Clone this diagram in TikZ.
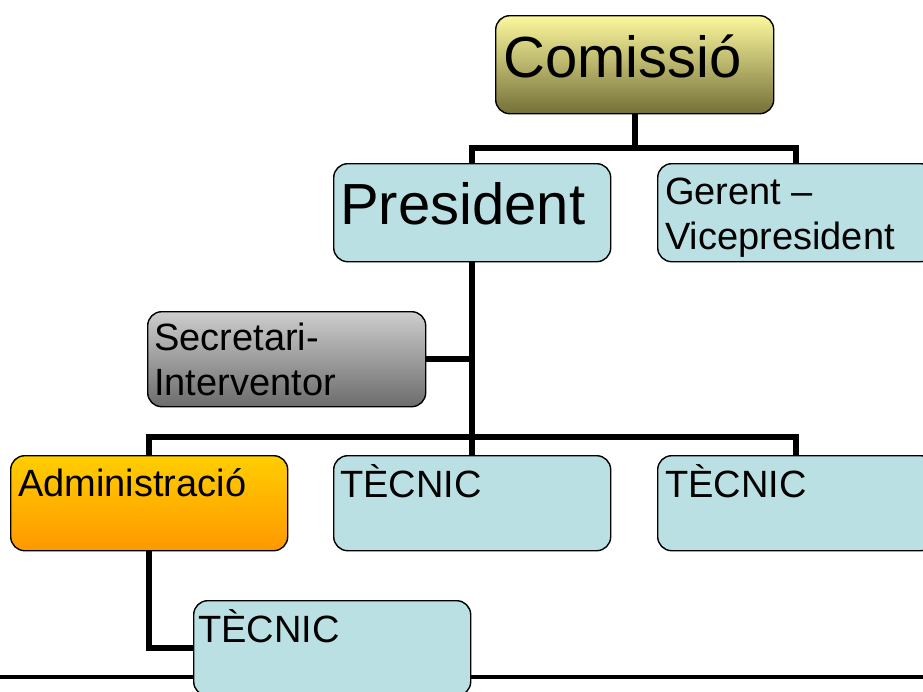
\documentclass[tikz,border=0pt]{standalone}
\usepackage{fontspec}
\setmainfont{Liberation Sans}
\definecolor{boxblue}{RGB}{187,224,227}
\definecolor{comtop}{RGB}{252,248,158}
\definecolor{combot}{RGB}{116,112,56}
\definecolor{graytop}{RGB}{205,205,205}
\definecolor{graybot}{RGB}{108,108,108}
\definecolor{admtop}{RGB}{255,206,0}
\definecolor{admbot}{RGB}{255,152,0}
\pgfdeclarelayer{bg}
\pgfsetlayers{bg,main}
\tikzset{
  box/.style={draw=black, line width=1.4pt, rounded corners=14pt, rectangle, anchor=north west,
    minimum width=277pt, minimum height=96pt, inner sep=0pt},
  bluebox/.style={box, fill=boxblue},
  conn/.style={line width=6pt, line cap=rect},
  big/.style={font=\fontsize{58}{62}\selectfont, anchor=base west, inner sep=0pt},
  mid/.style={font=\fontsize{38}{45}\selectfont, anchor=base west, inner sep=0pt, align=left},
}
\begin{document}
\begin{tikzpicture}[x=1pt, y=-1pt]
\useasboundingbox (0,0) rectangle (923,691);
\clip (0,0) rectangle (923,691);
% boxes
\node[box, top color=comtop, bottom color=combot, minimum width=278pt, minimum height=98pt] (com) at (495,15) {};
\node[bluebox, minimum height=98pt] (pres) at (333,163) {};
\node[bluebox, minimum height=98pt] (ger) at (657,163) {};
\node[box, top color=graytop, bottom color=graybot, minimum width=278pt, minimum height=95pt] (sec) at (147,311) {};
\node[box, top color=admtop, bottom color=admbot, minimum height=95pt] (adm) at (10,455) {};
\node[bluebox, minimum height=95pt] (tec1) at (333,455) {};
\node[bluebox, minimum height=95pt] (tec2) at (657,455) {};
\node[bluebox, minimum height=95pt] (tec3) at (193,600) {};
% connectors
\coordinate (top) at (0,148);
\coordinate (bus) at (0,437);
\coordinate (ruleL) at (0,677);
\coordinate (ruleR) at (923,677);
\begin{pgfonlayer}{bg}
\draw[conn] (com.south) -- (com.south |- top);
\draw[conn] (pres.north |- top) -- (ger.north |- top);
\draw[conn] (pres.north |- top) -- (pres.north);
\draw[conn] (ger.north |- top) -- (ger.north);
\draw[conn] (pres.south) -- (pres.south |- bus);
\draw[conn] (sec.east) -- (sec.east -| pres.south);
\draw[conn] (adm.north |- bus) -- (tec2.north |- bus);
\draw[conn] (adm.north |- bus) -- (adm.north);
\draw[conn] (tec1.north |- bus) -- (tec1.north);
\draw[conn] (tec2.north |- bus) -- (tec2.north);
\draw[conn] (adm.south) |- (tec3.west);
\draw[line width=3.5pt] (ruleL) -- (ruleR);
\end{pgfonlayer}
% texts
\node[big] (tcom) at (503,77) {Comissió};
\node[big] (tpres) at (340,224) {President};
\node[mid] (tger) at (665,249) {Gerent –\\Vicepresident};
\node[mid] (tsec) at (154,395) {Secretari-\\Interventor};
\node[mid] (tadm) at (18,496) {Administració};
\node[mid] (ttec1) at (340,497) {TÈCNIC};
\node[mid] (ttec2) at (665,497) {TÈCNIC};
\node[mid] (ttec3) at (198,642) {TÈCNIC};
\end{tikzpicture}
\end{document}
